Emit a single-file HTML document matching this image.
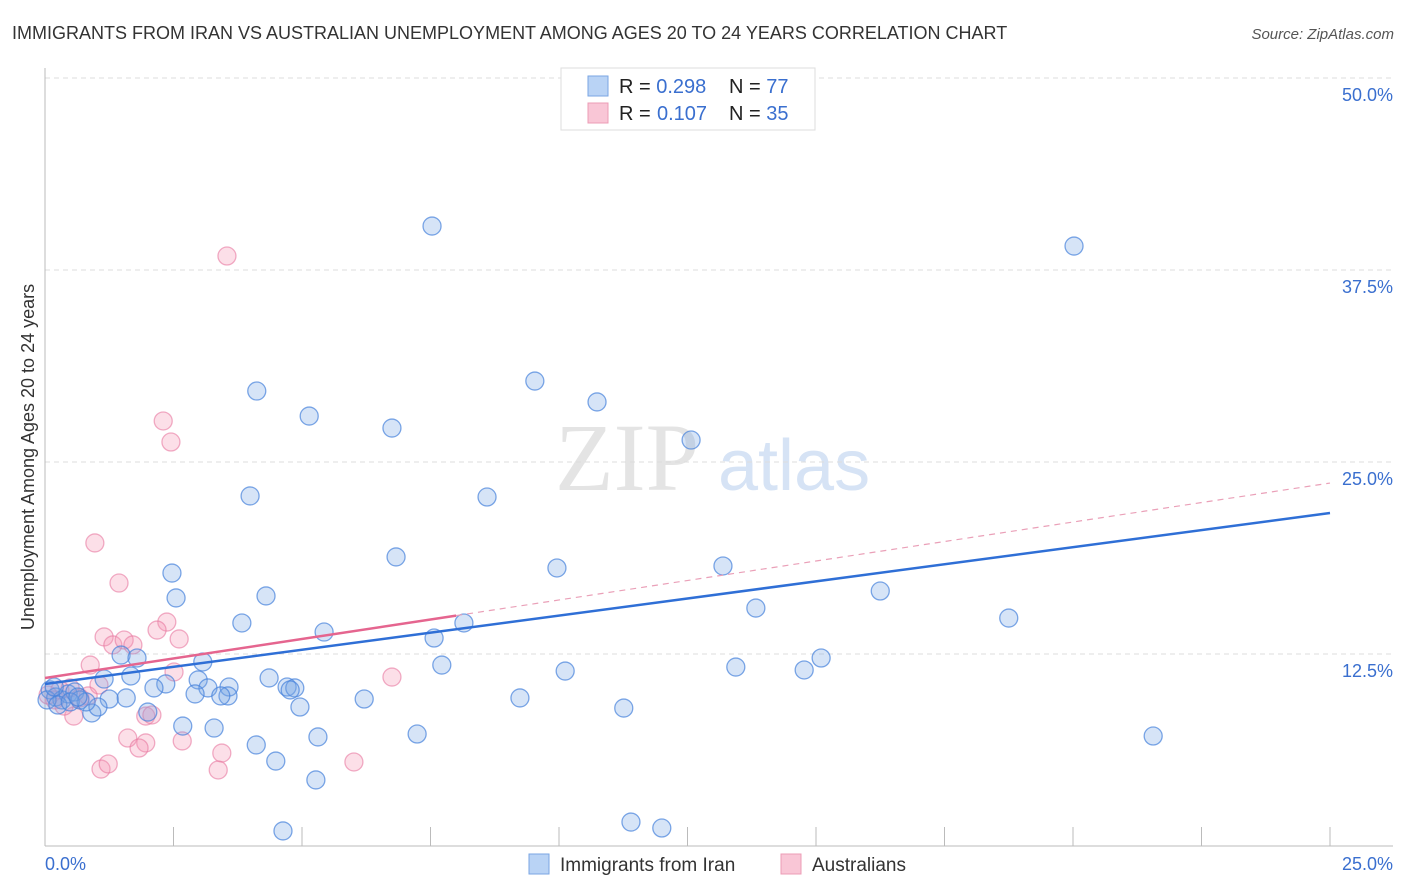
<!DOCTYPE html>
<html><head><meta charset="utf-8"><style>
body{margin:0;background:#fff;font-family:"Liberation Sans",sans-serif;}
#wrap{position:relative;width:1406px;height:892px;overflow:hidden;}
</style></head><body>
<div id="wrap">
<svg id="svg" width="1406" height="892" xmlns="http://www.w3.org/2000/svg">
<text x="12" y="39" font-size="18" fill="#333">IMMIGRANTS FROM IRAN VS AUSTRALIAN UNEMPLOYMENT AMONG AGES 20 TO 24 YEARS CORRELATION CHART</text>
<text x="1394" y="39" font-size="15" fill="#555" font-style="italic" text-anchor="end">Source: ZipAtlas.com</text>
<text x="34" y="457" font-size="18" fill="#333" text-anchor="middle" transform="rotate(-90 34 457)">Unemployment Among Ages 20 to 24 years</text>
<g>
<text x="555" y="490" font-size="96" fill="#e4e4e4" font-family="Liberation Serif,serif">ZIP</text>
<text x="718" y="490" font-size="72" fill="#d6e3f5">atlas</text>
</g>
<g id="grid"></g><g id="axes"></g><g id="pts"></g><g id="trend"></g>
<g>
<rect x="561" y="68" width="254" height="62" fill="#fff" stroke="#ddd"/>
<rect x="588" y="76" width="20" height="20" fill="#b9d3f5" stroke="#7aa6e3"/>
<rect x="588" y="103" width="20" height="20" fill="#f9c6d6" stroke="#ec9cb6"/>
<text x="619" y="93" font-size="20" fill="#222">R = <tspan fill="#3a6fcf">0.298</tspan><tspan x="729">N = </tspan><tspan fill="#3a6fcf">77</tspan></text>
<text x="619" y="120" font-size="20" fill="#222">R = <tspan x="657" fill="#3a6fcf">0.107</tspan><tspan x="729">N = </tspan><tspan fill="#3a6fcf">35</tspan></text>
</g>
<g>
<rect x="529" y="854" width="20" height="20" fill="#b9d3f5" stroke="#7aa6e3"/>
<text x="560" y="871" font-size="19" fill="#333">Immigrants from Iran</text>
<rect x="781" y="854" width="20" height="20" fill="#f9c6d6" stroke="#ec9cb6"/>
<text x="812" y="871" font-size="19" fill="#333">Australians</text>
</g>
</svg>
</div>
<script>
const blueX=[7.53,20.02,4.12,5.14,9.53,10.74,6.75,12.57,3.99,8.60,6.83,9.96,13.19,2.47,2.55,4.30,16.25,13.83,18.75,3.83,5.43,8.15,7.57,1.48,1.79,3.07,7.72,10.12,13.44,14.77,15.10,1.15,1.67,2.35,2.98,4.36,2.12,3.17,3.58,4.71,4.86,3.56,2.92,3.42,4.77,1.25,1.58,4.96,6.21,9.24,0.91,1.03,2.68,3.29,4.11,5.31,7.24,11.26,21.56,4.49,5.27,4.63,11.40,12.00,0.10,0.21,0.33,0.45,0.58,0.68,0.80,2.00,0.04,0.18,0.25,0.49,0.64];
const blueY=[40.36,39.06,29.62,27.99,30.27,28.91,27.21,26.43,22.79,22.72,18.82,18.10,18.23,17.77,16.15,16.28,16.60,15.49,14.84,14.52,13.93,14.52,13.54,12.43,12.24,11.98,11.78,11.39,11.65,11.46,12.24,10.87,11.07,10.55,10.81,10.94,10.29,10.29,10.35,10.35,10.29,9.77,9.90,9.77,10.16,9.57,9.64,9.05,9.57,9.64,8.66,9.05,7.81,7.68,6.58,7.10,7.29,8.98,7.16,5.53,4.30,0.98,1.56,1.17,10.16,9.70,9.51,9.90,10.03,9.51,9.38,8.72,9.51,10.35,9.18,9.38,9.70];
const pinkX=[3.54,2.30,2.45,0.97,1.44,2.37,2.18,1.15,1.32,1.54,1.71,2.61,6.75,0.88,2.51,1.05,0.29,0.49,0.68,0.84,0.19,0.06,0.56,1.96,2.08,1.61,1.96,2.67,1.83,3.44,1.09,1.23,3.37,6.01,0.37];
const pinkY=[38.41,27.67,26.30,19.73,17.12,14.58,14.06,13.61,13.09,13.41,13.09,13.48,11.00,11.78,11.33,10.48,10.16,10.29,9.64,9.77,9.51,9.83,8.46,8.46,8.53,7.03,6.71,6.84,6.38,6.05,5.01,5.34,4.95,5.47,9.11];
const blueTrend=[10.55,21.68]; // y at x=0 and x=25
const pinkTrend=[10.94,23.63]; // y at x=0 and x=25
const pinkSolidEnd=8.0;
const yTicks=[12.5,25,37.5,50];
const yTickLabels=["12.5%","25.0%","37.5%","50.0%"];
const xTicks=[0,2.5,5,7.5,10,12.5,15,17.5,20,22.5,25];
const NS="http://www.w3.org/2000/svg";
const sx=v=>45+v/25*1285, sy=v=>846-v/50*768;
function mk(tag,attrs,parent){const e=document.createElementNS(NS,tag);for(const k in attrs)e.setAttribute(k,attrs[k]);parent.appendChild(e);return e;}
const grid=document.getElementById('grid'),axes=document.getElementById('axes'),pts=document.getElementById('pts'),trend=document.getElementById('trend');
yTicks.forEach((t,i)=>{
 const l=mk('line',{x1:45,x2:1393,y1:sy(t),y2:sy(t),stroke:'#ddd','stroke-dasharray':'5,4'},grid);
 
 
 const tx=mk('text',{x:1393,y:sy(t)+23,'font-size':18,fill:'#3a6fcf','text-anchor':'end'},axes);
 tx.textContent=yTickLabels[i];
 
 
});
xTicks.forEach(t=>{
 const l=mk('line',{x1:sx(t),x2:sx(t),y1:827,y2:846,stroke:'#bbb'},axes);
 
 
});
let a=mk('line',{x1:45,x2:45,y1:68,y2:846,stroke:'#bbb'},axes);


a=mk('line',{x1:45,x2:1393,y1:846,y2:846,stroke:'#bbb'},axes);


let t0=mk('text',{x:45,y:870,'font-size':18,fill:'#3a6fcf'},axes);t0.textContent='0.0%';


t0=mk('text',{x:1393,y:870,'font-size':18,fill:'#3a6fcf','text-anchor':'end'},axes);t0.textContent='25.0%';


pinkX.forEach((x,i)=>{
 const c=mk('circle',{cx:sx(x),cy:sy(pinkY[i]),r:9,fill:'rgba(244,150,180,0.3)',stroke:'rgba(232,120,160,0.6)','stroke-width':1.3},pts);
 
 
});
blueX.forEach((x,i)=>{
 const c=mk('circle',{cx:sx(x),cy:sy(blueY[i]),r:9,fill:'rgba(120,165,230,0.3)',stroke:'rgba(70,130,220,0.7)','stroke-width':1.3},pts);
 
 
});
const py=x=>pinkTrend[0]+(pinkTrend[1]-pinkTrend[0])*x/25;
let tl=mk('line',{x1:sx(pinkSolidEnd),y1:sy(py(pinkSolidEnd)),x2:sx(25),y2:sy(pinkTrend[1]),stroke:'#eaa0b8','stroke-width':1.2,'stroke-dasharray':'6,5'},trend);


tl=mk('line',{x1:sx(0),y1:sy(blueTrend[0]),x2:sx(25),y2:sy(blueTrend[1]),stroke:'#2f6fd6','stroke-width':2.5},trend);


tl=mk('line',{x1:sx(0),y1:sy(pinkTrend[0]),x2:sx(pinkSolidEnd),y2:sy(py(pinkSolidEnd)),stroke:'#e5658f','stroke-width':2.5},trend);


</script>
</body></html>
